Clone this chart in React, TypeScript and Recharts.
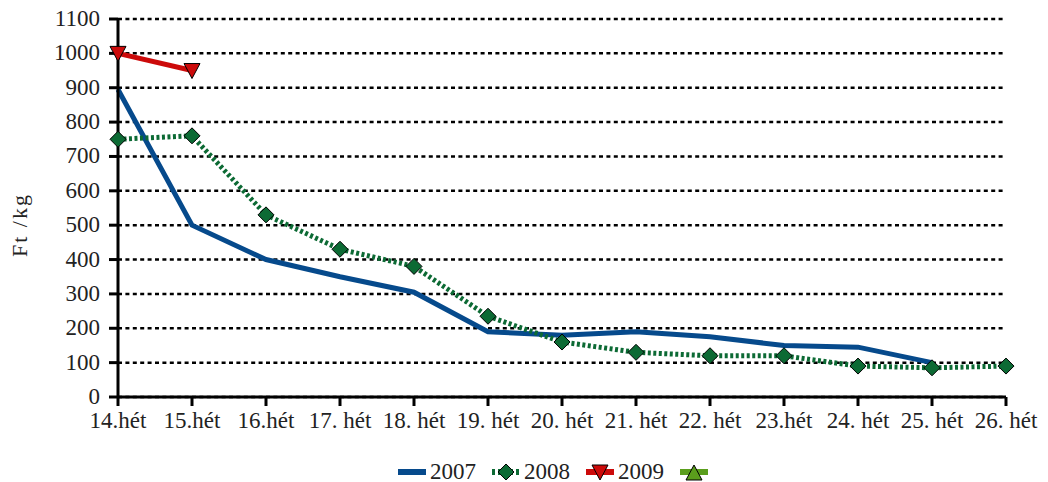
import React from "react";
import {
  CartesianGrid,
  Legend,
  Line,
  LineChart,
  XAxis,
  YAxis,
} from "recharts";

const weeks = [
  "14.hét",
  "15.hét",
  "16.hét",
  "17. hét",
  "18. hét",
  "19. hét",
  "20. hét",
  "21. hét",
  "22. hét",
  "23.hét",
  "24. hét",
  "25. hét",
  "26. hét",
];

const price2007 = [895, 500, 400, 350, 305, 190, 180, 190, 175, 150, 145, 100, null];
const price2008 = [750, 760, 530, 430, 380, 235, 160, 130, 120, 120, 90, 85, 90];
const price2009 = [1000, 950, null, null, null, null, null, null, null, null, null, null, null];

const yTicks = [0, 100, 200, 300, 400, 500, 600, 700, 800, 900, 1000, 1100];

const legendItems = [
  { label: "2007", kind: "line" },
  { label: "2008", kind: "diamond" },
  { label: "2009", kind: "down" },
  { label: "", kind: "up" },
];

const data = weeks.map((week, i) => ({
  week,
  y2007: price2007[i],
  y2008: price2008[i],
  y2009: price2009[i],
}));

const FONT = "Liberation Serif";
const BLUE = "#064a8c";
const GREEN = "#0c6a34";
const RED = "#cc0a0a";
const LIGHT_GREEN = "#5a9e1c";

const Diamond = (props: any) => {
  const { cx, cy, index } = props;
  if (cy == null || cx == null) return <g key={`d${index}`} />;
  const r = 8;
  return (
    <path
      key={`d${index}`}
      d={`M${cx},${cy - r} L${cx + r},${cy} L${cx},${cy + r} L${cx - r},${cy} Z`}
      fill={GREEN}
      stroke="#000"
      strokeWidth={1}
    />
  );
};

const DownTri = (props: any) => {
  const { cx, cy, index } = props;
  if (cy == null || cx == null) return <g key={`t${index}`} />;
  return (
    <path
      key={`t${index}`}
      d={`M${cx - 8},${cy - 7} L${cx + 8},${cy - 7} L${cx},${cy + 8} Z`}
      fill={RED}
      stroke="#000"
      strokeWidth={1}
    />
  );
};

const XTick = (props: any) => {
  const { x, y, payload } = props;
  return (
    <text x={x} y={y + 18} textAnchor="middle" fontFamily={FONT} fontSize={23} fill="#222">
      {payload.value}
    </text>
  );
};

const YTick = (props: any) => {
  const { x, y, payload } = props;
  return (
    <text x={x} y={y + 7} textAnchor="end" fontFamily={FONT} fontSize={23} fill="#222">
      {payload.value}
    </text>
  );
};

const LegendIcon = ({ kind }: { kind: string }) => {
  return (
    <svg width={28} height={20} style={{ display: "block" }}>
      {kind === "line" && <line x1={0} y1={10} x2={28} y2={10} stroke={BLUE} strokeWidth={6} />}
      {kind === "diamond" && (
        <>
          <line x1={0} y1={10} x2={28} y2={10} stroke={GREEN} strokeWidth={6} strokeDasharray="3 3" />
          <path d="M14,2 L22,10 L14,18 L6,10 Z" fill={GREEN} stroke="#000" strokeWidth={1} />
        </>
      )}
      {kind === "down" && (
        <>
          <line x1={0} y1={10} x2={28} y2={10} stroke={RED} strokeWidth={6} />
          <path d="M6,3 L22,3 L14,18 Z" fill={RED} stroke="#000" strokeWidth={1} />
        </>
      )}
      {kind === "up" && (
        <>
          <line x1={0} y1={10} x2={28} y2={10} stroke={LIGHT_GREEN} strokeWidth={6} />
          <path d="M6,18 L22,18 L14,3 Z" fill={LIGHT_GREEN} stroke="#000" strokeWidth={1} />
        </>
      )}
    </svg>
  );
};

const renderLegend = () => (
  <div
    style={{
      display: "flex",
      alignItems: "center",
      height: 24,
      paddingLeft: 398,
      fontFamily: FONT,
      fontSize: 23,
      color: "#222",
    }}
  >
    {legendItems.map((item) => (
      <div key={item.kind} style={{ display: "flex", alignItems: "center", width: 94 }}>
        <LegendIcon kind={item.kind} />
        {item.label && <span style={{ marginLeft: 4 }}>{item.label}</span>}
      </div>
    ))}
  </div>
);

const YLabel = (props: any) => {
  const { viewBox } = props;
  const cy = viewBox.y + viewBox.height / 2 + 17;
  return (
    <text
      x={27}
      y={cy}
      transform={`rotate(-90, 27, ${cy})`}
      textAnchor="middle"
      fontFamily={FONT}
      fontSize={22}
      fill="#222"
      letterSpacing={2}
    >
      Ft /kg
    </text>
  );
};

const App: React.FC = () => {
  return (
    <div style={{ position: "absolute", left: 0, top: 0, width: 1048, height: 482, background: "#fff" }}>
      <LineChart
        width={1048}
        height={482}
        data={data}
        margin={{ top: 19, right: 42, left: 0, bottom: 21 }}
      >
        <CartesianGrid
          vertical={false}
          stroke="#000"
          strokeWidth={2.5}
          strokeDasharray="4 3.4"
        />
        <XAxis
          dataKey="week"
          tick={<XTick />}
          tickLine={{ stroke: "#000", strokeWidth: 3 }}
          axisLine={{ stroke: "#000", strokeWidth: 3 }}
          tickSize={9}
          tickMargin={4}
          height={40}
          interval={0}
        />
        <YAxis
          domain={[0, 1100]}
          ticks={yTicks}
          tick={<YTick />}
          tickLine={{ stroke: "#000", strokeWidth: 3 }}
          axisLine={{ stroke: "#000", strokeWidth: 3 }}
          tickSize={9}
          tickMargin={9}
          width={118}
          interval={0}
          label={<YLabel />}
        />
        <Legend
          content={renderLegend}
          wrapperStyle={{ position: "absolute", top: 460, left: 0, width: 1048 }}
        />
        <Line
          dataKey="y2007"
          name="2007"
          stroke={BLUE}
          strokeWidth={5}
          dot={false}
          activeDot={false}
          isAnimationActive={false}
        />
        <Line
          dataKey="y2008"
          name="2008"
          stroke={GREEN}
          strokeWidth={5}
          strokeDasharray="3 2.5"
          dot={Diamond}
          activeDot={false}
          isAnimationActive={false}
        />
        <Line
          dataKey="y2009"
          name="2009"
          stroke={RED}
          strokeWidth={5}
          dot={DownTri}
          activeDot={false}
          isAnimationActive={false}
        />
      </LineChart>
    </div>
  );
};

export default App;
